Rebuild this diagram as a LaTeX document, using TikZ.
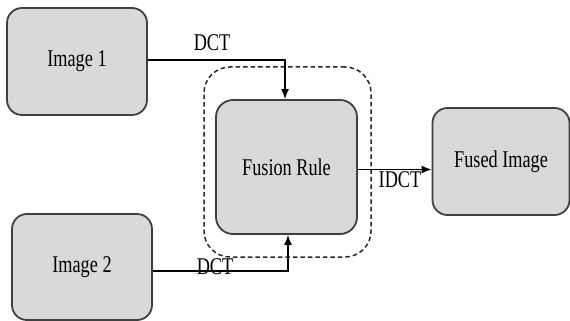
\documentclass[tikz,border=0pt]{standalone}
\usepackage{fontspec}
\setmainfont{Liberation Serif}
\usetikzlibrary{arrows.meta}
\newcommand{\sqz}[1]{\scalebox{0.76}[1]{#1}}
\begin{document}
\begin{tikzpicture}[x=1pt,y=-1pt,
  blk/.style={draw=black!75, line width=1.8pt, fill=black!15, rounded corners=15pt,
    inner sep=0pt, font=\fontsize{24}{28}\selectfont},
  lbl/.style={inner sep=0pt, font=\fontsize{24}{28}\selectfont},
  arr/.style={draw=black, line width=1.5pt, -{Latex[length=10pt,width=8pt]}},
  dsh/.style={draw=black!85, line width=1.5pt, dash pattern=on 4.5pt off 3pt, rounded corners=26pt}]
\useasboundingbox (0,0) rectangle (570,321);
\node[blk, minimum width=140pt, minimum height=107pt] (img1) at (77,61.5) {\sqz{Image 1}};
\node[blk, minimum width=140pt, minimum height=106pt] (img2) at (82,267) {\sqz{Image 2}};
\node[blk, minimum width=141pt, minimum height=134pt, rounded corners=17pt] (fus) at (286.5,167) {\sqz{Fusion Rule}};
\node[blk, minimum width=137pt, minimum height=107pt] (fused) at (501,161.5) {\sqz{Fused Image}};
\node[dsh, minimum width=167pt, minimum height=190pt] (grp) at (287.5,162) {};
\draw[arr] ([yshift=1.5pt]img1.east) -| ([xshift=-1.5pt]fus.north);
\draw[arr] ([yshift=-4pt]img2.east) -| ([xshift=1.5pt]fus.south);
\draw[arr] ([yshift=-2.5pt]fus.east) -- ([yshift=-2.5pt]fus.east -| fused.west);
\node[lbl] (dct1) at (212,43) {\sqz{DCT}};
\node[lbl] (dct2) at (215,267) {\sqz{DCT}};
\node[lbl] (idct) at (400,180) {\sqz{IDCT}};
\end{tikzpicture}
\end{document}
